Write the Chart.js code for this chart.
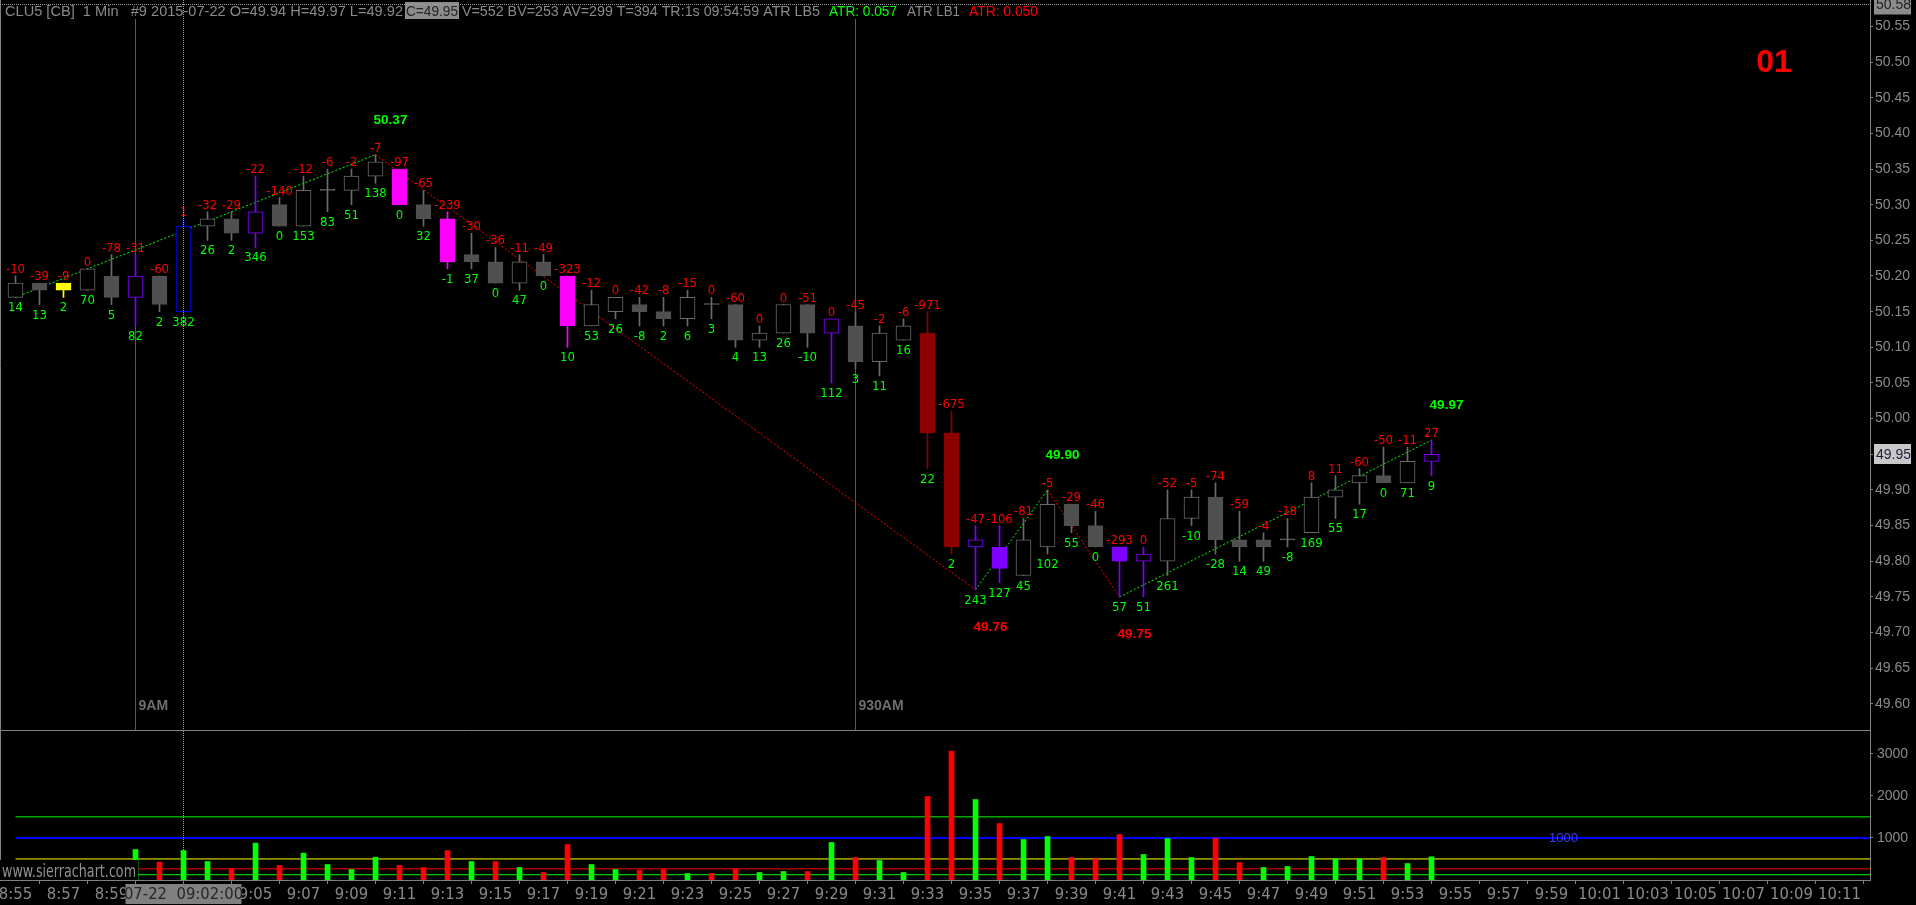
<!DOCTYPE html>
<html>
<head>
<meta charset="utf-8">
<title>CLU5 1 Min</title>
<script src="https://cdn.jsdelivr.net/npm/chart.js@4.4.1/dist/chart.umd.min.js"></script>
<style>
  html, body { margin: 0; padding: 0; background: #000; overflow: hidden; }
  #priceChart { position: absolute; left: 0; top: 0; }
  #volChart { position: absolute; left: 0; top: 731px; }
</style>
</head>
<body>
<canvas id="priceChart" width="1916" height="731"></canvas>
<canvas id="volChart" width="1916" height="174"></canvas>
<script>
// ---- data ----
const barTimes = ['8:55','8:56','8:57','8:58','8:59','9:00','9:01','9:02','9:03','9:04',
  '9:05','9:06','9:07','9:08','9:09','9:10','9:11','9:12','9:13','9:14',
  '9:15','9:16','9:17','9:18','9:19','9:20','9:21','9:22','9:23','9:24',
  '9:25','9:26','9:27','9:28','9:29','9:30','9:31','9:32','9:33','9:34',
  '9:35','9:36','9:37','9:38','9:39','9:40','9:41','9:42','9:43','9:44',
  '9:45','9:46','9:47','9:48','9:49','9:50','9:51','9:52','9:53','9:54'];

const open = [50.17,50.19,50.19,50.18,50.20,50.17,50.20,50.15,50.27,50.28,
  50.26,50.30,50.27,50.32,50.32,50.34,50.35,50.30,50.28,50.23,
  50.22,50.19,50.22,50.20,50.13,50.15,50.16,50.15,50.14,50.16,
  50.16,50.11,50.12,50.16,50.12,50.13,50.08,50.11,50.12,49.98,
  49.82,49.82,49.78,49.82,49.88,49.85,49.82,49.80,49.80,49.86,
  49.89,49.83,49.83,49.83,49.84,49.89,49.91,49.92,49.91,49.94];
const high = [50.20,50.19,50.19,50.21,50.23,50.23,50.20,50.28,50.29,50.29,
  50.34,50.31,50.34,50.35,50.35,50.37,50.35,50.32,50.29,50.26,
  50.24,50.23,50.23,50.20,50.18,50.17,50.17,50.17,50.18,50.17,
  50.16,50.13,50.16,50.16,50.14,50.15,50.13,50.14,50.15,50.01,
  49.85,49.85,49.86,49.90,49.88,49.87,49.82,49.82,49.90,49.90,
  49.91,49.87,49.84,49.86,49.91,49.92,49.93,49.96,49.96,49.97];
const low = [50.17,50.16,50.17,50.18,50.16,50.13,50.15,50.15,50.25,50.25,
  50.24,50.27,50.27,50.29,50.30,50.33,50.30,50.27,50.21,50.21,
  50.19,50.18,50.20,50.10,50.13,50.14,50.13,50.13,50.13,50.14,
  50.10,50.10,50.12,50.10,50.05,50.07,50.06,50.11,49.93,49.81,
  49.76,49.77,49.78,49.81,49.84,49.82,49.75,49.75,49.78,49.85,
  49.81,49.80,49.80,49.82,49.84,49.86,49.88,49.91,49.91,49.92];
const close = [50.19,50.18,50.18,50.21,50.17,50.20,50.16,50.27,50.28,50.26,
  50.29,50.27,50.32,50.32,50.34,50.36,50.30,50.28,50.22,50.22,
  50.19,50.22,50.20,50.13,50.16,50.17,50.15,50.14,50.17,50.16,
  50.11,50.12,50.16,50.12,50.14,50.08,50.12,50.13,49.98,49.82,
  49.83,49.79,49.83,49.88,49.85,49.82,49.80,49.81,49.86,49.89,
  49.83,49.82,49.82,49.83,49.89,49.90,49.92,49.91,49.94,49.95];

// numbers printed above (red) and below (green) each bar
const topDelta = [-10,-39,-9,0,-78,-31,-60,1,-32,-29,
  -22,-140,-12,-6,-2,-7,-97,-65,-239,-30,
  -36,-11,-49,-323,-12,0,-42,-8,-15,0,
  -60,0,0,-51,0,-45,-2,-6,-971,-675,
  -47,-106,-81,-5,-29,-46,-293,0,-52,-5,
  -74,-59,-4,-18,8,11,-60,-50,-11,27];
const bottomDelta = [14,13,2,70,5,82,2,382,26,2,
  346,0,153,83,51,138,0,32,-1,37,
  0,47,0,10,53,26,-8,2,6,3,
  4,13,26,-10,112,3,11,16,22,2,
  243,127,45,102,55,0,57,51,261,-10,
  -28,14,49,-8,169,55,17,0,71,9];

const volume = [180,140,60,300,150,724,423,700,439,265,
  875,344,637,368,249,542,344,297,700,439,
  439,297,178,843,368,249,226,249,154,154,
  265,178,202,202,891,534,463,178,1983,3060,
  1912,1342,962,1033,534,503,1081,606,986,534,
  986,416,297,321,558,503,503,534,392,552];

// zigzag swing points
const swingBars = [0, 15, 40, 43, 46, 59];
const swingPrices = [50.17, 50.37, 49.76, 49.90, 49.75, 49.97];

// bars painted in a highlight colour
const highlightBars = [2, 5, 7, 10, 16, 18, 23, 34, 38, 39, 40, 41, 46, 47, 59];
const highlightKind = ['yellow','purple','blue','purple','magenta','magenta','magenta','purple',
  'darkred','darkred','purple','purple','purple','purple','purple'];

const sessionBars = [5, 35];
const sessionLabels = ['9AM', '930AM'];

const volumeLevels = [1500, 1000, 500, 265, 125];

const priceTickLabels = ['49.60','49.65','49.70','49.75','49.80','49.85','49.90','49.95','50.00',
  '50.05','50.10','50.15','50.20','50.25','50.30','50.35','50.40','50.45','50.50','50.55'];
const volTickLabels = ['1000', '2000', '3000'];
const xTickLabels = ['8:55','8:57','8:59','9:01','9:03','9:05','9:07','9:09','9:11','9:13',
  '9:15','9:17','9:19','9:21','9:23','9:25','9:27','9:29','9:31','9:33',
  '9:35','9:37','9:39','9:41','9:43','9:45','9:47','9:49','9:51','9:53',
  '9:55','9:57','9:59','10:01','10:03','10:05','10:07','10:09','10:11'];

const cursorBar = 7;
const cursorPrice = 50.58;
const cursorStamp = '07-22  09:02:00';
const symbolText = 'CLU5 [CB]  1 Min   #9 2015-07-22';
const atr5 = '0.057', atr1 = '0.050';

// ---- styling ----
const NARROW = '"Liberation Sans Narrow", "Arial Narrow", "DejaVu Sans Condensed", sans-serif';
const SANS = '"Liberation Sans", Arial, sans-serif';
const GRAY = '#8a8a8a';
const WICK = '#6a6a6a', HOLLOW = '#6a6a6a', FILL = '#505050';
const COLORS = { yellow: '#ffff00', purple: '#8000ff', blue: '#0000ff', magenta: '#ff00ff', darkred: '#8c0000' };
const LEVEL_COLORS = ['#00ff00', '#0000ff', '#ffff00', '#ff0000', '#00ff00'];
const xMin = -0.6458, xMax = 77.2708;   // visible bar window
const yMin = 49.562, yMax = 50.587;
const volMax = 3540;

// ---- build datasets ----
const N = close.length;
const kindOf = {};
highlightBars.forEach((b, k) => { kindOf[b] = highlightKind[k]; });

const wickData = [], bodyData = [], wickColor = [], bodyFill = [], bodyEdge = [];
for (let i = 0; i < N; i++) {
  wickData.push({ x: i, y: [low[i], high[i]] });
  bodyData.push({ x: i, y: [open[i], close[i]] });
  const up = close[i] > open[i];
  const kind = kindOf[i];
  if (kind) {
    const c = COLORS[kind];
    wickColor.push(c); bodyEdge.push(c); bodyFill.push(up ? '#000000' : c);
  } else if (up) {
    wickColor.push(WICK); bodyEdge.push(HOLLOW); bodyFill.push('#000000');
  } else if (close[i] < open[i]) {
    wickColor.push(WICK); bodyEdge.push(FILL); bodyFill.push(FILL);
  } else {
    wickColor.push(WICK); bodyEdge.push(WICK); bodyFill.push(WICK);
  }
}

const upLegs = [], downLegs = [];
for (let k = 0; k < swingBars.length - 1; k++) {
  const a = { x: swingBars[k], y: swingPrices[k] };
  const b = { x: swingBars[k + 1], y: swingPrices[k + 1] };
  const leg = b.y > a.y ? upLegs : downLegs;
  leg.push(a, b, { x: b.x, y: null });
}

const volColor = volume.map((v, i) => (i === 0 || close[i] >= close[i - 1]) ? '#00ff00' : '#ff0000');

function fitText(ctx, text, x, y, width) {
  const w = ctx.measureText(text).width;
  ctx.save();
  ctx.translate(x, y);
  ctx.scale(width / w, 1);
  ctx.fillText(text, 0, 0);
  ctx.restore();
}

function dottedLine(ctx, x1, y1, x2, y2, color) {
  ctx.save();
  ctx.strokeStyle = color;
  ctx.lineWidth = 1;
  ctx.setLineDash([1, 1]);
  ctx.beginPath();
  ctx.moveTo(x1, y1);
  ctx.lineTo(x2, y2);
  ctx.stroke();
  ctx.restore();
}

// ---- price pane drawing ----
const pricePaint = {
  id: 'pricePaint',
  beforeDatasetsDraw(chart) {
    const { ctx, chartArea: a, scales: { x } } = chart;
    ctx.save();
    ctx.strokeStyle = '#5a5a5a';
    ctx.lineWidth = 1;
    sessionBars.forEach((b, k) => {
      const px = Math.floor(x.getPixelForValue(b)) + 0.5;
      ctx.beginPath();
      ctx.moveTo(px, a.top);
      ctx.lineTo(px, a.bottom);
      ctx.stroke();
      ctx.fillStyle = '#6e6e6e';
      ctx.font = 'bold 14px ' + SANS;
      ctx.textAlign = 'left';
      ctx.fillText(sessionLabels[k], px + 3, a.bottom - 21);
    });
    ctx.restore();
  },
  afterDatasetsDraw(chart) {
    const { ctx, scales: { x, y } } = chart;
    ctx.save();
    ctx.textAlign = 'center';
    ctx.font = '13px ' + NARROW;
    for (let i = 0; i < N; i++) {
      const px = x.getPixelForValue(i);
      ctx.fillStyle = '#ff0000';
      ctx.fillText(String(topDelta[i]), px, y.getPixelForValue(high[i]) - 3);
      ctx.fillStyle = '#00ff00';
      ctx.fillText(String(bottomDelta[i]), px, y.getPixelForValue(low[i]) + 14);
    }
    ctx.font = 'bold 13.5px ' + SANS;
    swingBars.forEach((b, k) => {
      if (k === 0) return; // first point only starts the visible leg
      const isHigh = swingPrices[k] > swingPrices[k - 1];
      const px = x.getPixelForValue(b) + 15;
      const py = y.getPixelForValue(swingPrices[k]);
      ctx.fillStyle = isHigh ? '#00ff00' : '#ff0000';
      ctx.fillText(swingPrices[k].toFixed(2), px, isHigh ? py - 31 : py + 41);
    });
    ctx.restore();
  },
  afterDraw(chart) {
    const { ctx, chartArea: a, scales: { x, y } } = chart;
    ctx.save();
    // header line
    ctx.fillStyle = '#000';
    ctx.fillRect(2, 0, 1040, 19);
    const last = N - 1;
    ctx.font = '14px ' + SANS;
    ctx.textAlign = 'left';
    ctx.fillStyle = GRAY;
    fitText(ctx, `${symbolText} O=${open[last].toFixed(2)} H=${high[last].toFixed(2)} L=${low[last].toFixed(2)}`, 5, 16, 398);
    ctx.fillStyle = '#8c8c8c';
    ctx.fillRect(405, 2, 54, 17);
    ctx.fillStyle = '#262626';
    fitText(ctx, `C=${close[last].toFixed(2)}`, 406, 16, 52);
    ctx.fillStyle = GRAY;
    fitText(ctx, `V=${volume[last]} BV=253 AV=299 T=394 TR:1s 09:54:59 ATR LB5`, 462, 16, 358);
    ctx.fillStyle = '#00ff00';
    fitText(ctx, `ATR: ${atr5}`, 829, 16, 68);
    ctx.fillStyle = GRAY;
    fitText(ctx, 'ATR LB1', 907, 16, 53);
    ctx.fillStyle = '#ff0000';
    fitText(ctx, `ATR: ${atr1}`, 969, 16, 69);

    // crosshair
    const cy = Math.floor(y.getPixelForValue(cursorPrice)) + 0.5;
    dottedLine(ctx, a.left, cy, a.right, cy, '#a0a0a0');
    const cx = Math.floor(x.getPixelForValue(cursorBar)) + 0.5;
    dottedLine(ctx, cx, a.top, cx, a.bottom, '#a0a0a0');

    // pane separator and left border
    ctx.strokeStyle = '#808080';
    ctx.lineWidth = 1;
    ctx.beginPath();
    ctx.moveTo(a.left, a.bottom - 0.5);
    ctx.lineTo(a.right, a.bottom - 0.5);
    ctx.moveTo(0.5, a.top);
    ctx.lineTo(0.5, a.bottom);
    ctx.stroke();

    // highlighted axis labels
    ctx.font = '14px ' + SANS;
    ctx.textBaseline = 'middle';
    const boxL = a.right + 4, boxW = 37;
    ctx.fillStyle = '#8c8c8c';
    ctx.fillRect(boxL, cy - 10, boxW, 20);
    ctx.fillStyle = '#222';
    ctx.fillText(cursorPrice.toFixed(2), boxL + 2, cy + 1);
    const ly = Math.round(y.getPixelForValue(close[last]));
    ctx.fillStyle = '#c8c8c8';
    ctx.fillRect(boxL, ly - 10, boxW, 20);
    ctx.fillStyle = '#1e1e3c';
    ctx.fillText(close[last].toFixed(2), boxL + 2, ly + 1);

    // page number
    ctx.textBaseline = 'alphabetic';
    ctx.textAlign = 'center';
    ctx.font = 'bold 32px ' + SANS;
    ctx.fillStyle = '#ff0000';
    ctx.fillText('01', 1774, 72);
    ctx.restore();
  }
};

new Chart(document.getElementById('priceChart'), {
  type: 'bar',
  data: {
    datasets: [
      { type: 'line', label: 'up legs', data: upLegs, borderColor: '#00ff00', borderWidth: 1,
        borderDash: [2, 2], pointRadius: 0, tension: 0, spanGaps: false, order: 3 },
      { type: 'line', label: 'down legs', data: downLegs, borderColor: '#ff0000', borderWidth: 1,
        borderDash: [2, 2], pointRadius: 0, tension: 0, spanGaps: false, order: 3 },
      { label: 'wicks', data: wickData, backgroundColor: wickColor, borderWidth: 0,
        barThickness: 1, grouped: false, order: 2 },
      { label: 'bodies', data: bodyData, backgroundColor: bodyFill, borderColor: bodyEdge,
        borderWidth: 1, borderSkipped: false, barThickness: 15, minBarLength: 1, grouped: false, order: 1 }
    ]
  },
  options: {
    responsive: false,
    animation: false,
    devicePixelRatio: 1,
    layout: { padding: 0, autoPadding: false },
    plugins: { legend: { display: false }, tooltip: { enabled: false } },
    scales: {
      x: { type: 'linear', min: xMin, max: xMax, offset: false, display: false },
      y: {
        type: 'linear', position: 'right', min: yMin, max: yMax,
        afterBuildTicks: s => { s.ticks = priceTickLabels.map(t => ({ value: parseFloat(t) })); },
        afterFit: s => { s.width = 46; s.paddingTop = 0; s.paddingBottom = 0; },
        ticks: { color: GRAY, font: { family: SANS, size: 14 }, padding: 2,
                 callback: v => Number(v).toFixed(2) },
        grid: { drawOnChartArea: false, tickLength: 3, color: '#808080' },
        border: { color: '#808080' }
      }
    }
  },
  plugins: [pricePaint]
});

// ---- volume pane drawing ----
const volPaint = {
  id: 'volPaint',
  afterDraw(chart) {
    const { ctx, chartArea: a, scales: { x } } = chart;
    ctx.save();
    ctx.strokeStyle = '#808080';
    ctx.lineWidth = 1;
    ctx.beginPath();
    ctx.moveTo(0.5, a.top);
    ctx.lineTo(0.5, a.bottom);
    ctx.stroke();

    const cx = Math.floor(x.getPixelForValue(cursorBar)) + 0.5;
    dottedLine(ctx, cx, a.top, cx, a.bottom, '#a0a0a0');

    // watermark box
    ctx.fillStyle = '#000';
    ctx.fillRect(0, a.bottom - 20, 138, 20);
    ctx.fillStyle = '#909090';
    ctx.font = '17px ' + NARROW;
    ctx.textAlign = 'left';
    fitText(ctx, 'www.sierrachart.com', 2, a.bottom - 3, 134);

    // level label
    ctx.fillStyle = '#3c3cff';
    ctx.font = '13px ' + SANS;
    ctx.textBaseline = 'middle';
    ctx.fillText(String(volumeLevels[1]), 1549, chart.scales.y.getPixelForValue(volumeLevels[1]) + 1);

    // time cursor box
    ctx.fillStyle = '#808080';
    ctx.fillRect(cx - 58, a.bottom + 4, 116, 20);
    ctx.fillStyle = '#262626';
    ctx.font = '16.5px ' + NARROW;
    ctx.textAlign = 'center';
    ctx.fillText(cursorStamp, cx, a.bottom + 15);
    ctx.restore();
  }
};

new Chart(document.getElementById('volChart'), {
  type: 'bar',
  data: {
    datasets: [
      ...volumeLevels.map((v, k) => ({
        type: 'line', label: 'level ' + v, data: [{ x: 0, y: v }, { x: xMax, y: v }],
        borderColor: LEVEL_COLORS[k], borderWidth: k === 1 ? 2 : 1, pointRadius: 0, order: 2
      })),
      { label: 'volume', data: volume.map((v, i) => ({ x: i, y: v })), backgroundColor: volColor,
        borderWidth: 0, barThickness: 5, grouped: false, order: 1 }
    ]
  },
  options: {
    responsive: false,
    animation: false,
    devicePixelRatio: 1,
    layout: { padding: 0, autoPadding: false },
    plugins: { legend: { display: false }, tooltip: { enabled: false } },
    scales: {
      x: {
        type: 'linear', min: xMin, max: xMax, offset: false,
        afterBuildTicks: s => { s.ticks = xTickLabels.map((t, k) => ({ value: 2 * k })); },
        afterFit: s => { s.height = 25; s.paddingLeft = 0; s.paddingRight = 0; },
        ticks: { autoSkip: false, maxRotation: 0, minRotation: 0, color: GRAY, padding: 1,
                 font: { family: NARROW, size: 16.5 },
                 callback: (v, idx) => xTickLabels[idx] },
        grid: { drawOnChartArea: false, tickLength: 4, color: '#808080' },
        border: { color: '#808080' }
      },
      y: {
        type: 'linear', position: 'right', min: 0, max: volMax,
        afterBuildTicks: s => { s.ticks = volTickLabels.map(t => ({ value: Number(t) })); },
        afterFit: s => { s.width = 46; s.paddingTop = 0; s.paddingBottom = 0; },
        ticks: { color: GRAY, font: { family: SANS, size: 14 }, padding: 4,
                 callback: (v, idx) => volTickLabels[idx] },
        grid: { drawOnChartArea: false, tickLength: 3, color: '#808080' },
        border: { color: '#808080' }
      }
    }
  },
  plugins: [volPaint]
});
</script>
</body>
</html>
